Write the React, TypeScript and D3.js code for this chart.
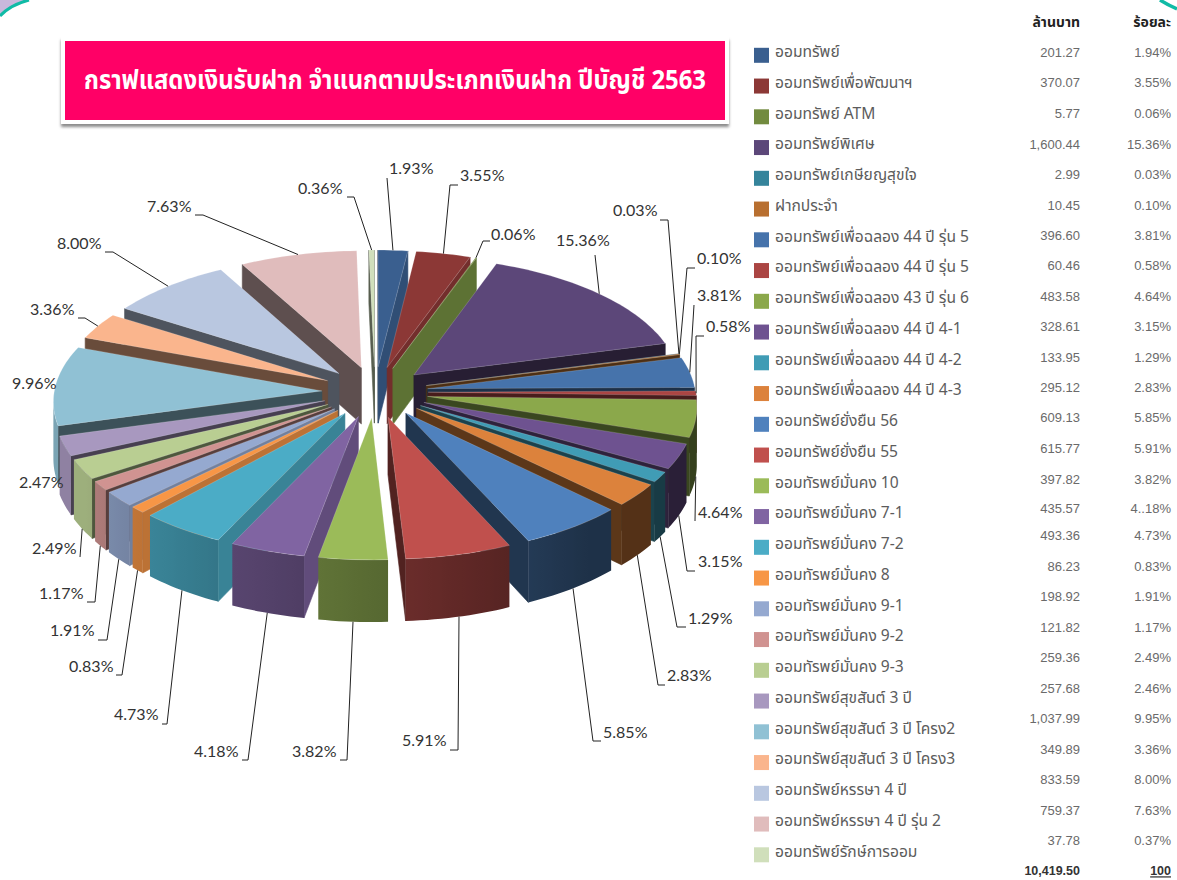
import React from "react";
import * as d3 from "d3";

const titleText = "กราฟแสดงเงินรับฝาก จำแนกตามประเภทเงินฝาก ปีบัญชี 2563";
const names = [
  "ออมทรัพย์", "ออมทรัพย์เพื่อพัฒนาฯ", "ออมทรัพย์ ATM", "ออมทรัพย์พิเศษ", "ออมทรัพย์เกษียญสุขใจ", "ฝากประจำ",
  "ออมทรัพย์เพื่อฉลอง 44 ปี รุ่น 5", "ออมทรัพย์เพื่อฉลอง 44 ปี รุ่น 5", "ออมทรัพย์เพื่อฉลอง 43 ปี รุ่น 6",
  "ออมทรัพย์เพื่อฉลอง 44 ปี 4-1", "ออมทรัพย์เพื่อฉลอง 44 ปี 4-2", "ออมทรัพย์เพื่อฉลอง 44 ปี 4-3",
  "ออมทรัพย์ยั่งยืน 56", "ออมทรัพย์ยั่งยืน 55", "ออมทัรพย์มั่นคง 10", "ออมทัรพย์มั่นคง 7-1", "ออมทัรพย์มั่นคง 7-2",
  "ออมทัรพย์มั่นคง 8", "ออมทัรพย์มั่นคง 9-1", "ออมทัรพย์มั่นคง 9-2", "ออมทัรพย์มั่นคง 9-3",
  "ออมทรัพย์สุขสันต์ 3 ปี", "ออมทรัพย์สุขสันต์ 3 ปี โครง2", "ออมทรัพย์สุขสันต์ 3 ปี โครง3",
  "ออมทรัพย์หรรษา 4 ปี", "ออมทรัพย์หรรษา 4 ปี รุ่น 2", "ออมทรัพย์รักษ์การออม",
];
const amounts = ["201.27","370.07","5.77","1,600.44","2.99","10.45","396.60","60.46","483.58","328.61","133.95","295.12","609.13","615.77","397.82","435.57","493.36","86.23","198.92","121.82","259.36","257.68","1,037.99","349.89","833.59","759.37","37.78"];
const tablePercents = ["1.94%","3.55%","0.06%","15.36%","0.03%","0.10%","3.81%","0.58%","4.64%","3.15%","1.29%","2.83%","5.85%","5.91%","3.82%","4..18%","4.73%","0.83%","1.91%","1.17%","2.49%","2.46%","9.95%","3.36%","8.00%","7.63%","0.37%"];
const chartPercents = [1.93,3.55,0.06,15.36,0.03,0.10,3.81,0.58,4.64,3.15,1.29,2.83,5.85,5.91,3.82,4.18,4.73,0.83,1.91,1.17,2.49,2.47,9.96,3.36,8.00,7.63,0.36];
const colors = ["#3a5f8f","#8c3836","#728b3f","#5c4779","#35849b","#b86f30","#4673ab","#ab4543","#8ba84b","#6e5290","#409cb5","#dc823c","#4f81bd","#c0504d","#9bbb59","#8064a2","#4bacc6","#f79646","#95a9d0","#d09391","#b9ce92","#a898bf","#90c1d4","#fab58d","#b9c7e0","#e0bcbc","#d0dfbb"];
const totalAmount = "10,419.50";
const totalPercent = "100";
const headAmount = "ล้านบาท";
const headPercent = "ร้อยละ";

// Layout, separate from data
const valueRowY = [53,83,114,145,175,206,236,266,297,327,358,388,418,449,480,509,536,567,597,628,658,689,719,750,780,811,841];
// label: text left x, text center y, elbow points (from slice to label)
const labelLayout: { x: number; y: number; pts: [number, number][] }[] = [
  { x: 389, y: 169, pts: [[387, 178]] },
  { x: 460, y: 176, pts: [[450, 185], [458, 185]] },
  { x: 491, y: 235, pts: [[483, 241], [490, 241]] },
  { x: 556, y: 241, pts: [[595, 255]] },
  { x: 613, y: 211, pts: [[668, 220], [660, 220]] },
  { x: 697, y: 259, pts: [[687, 268], [695, 268]] },
  { x: 697, y: 296, pts: [[694, 305]] },
  { x: 706, y: 327, pts: [[696, 336], [704, 336]] },
  { x: 698, y: 513, pts: [[695, 521]] },
  { x: 698, y: 562, pts: [[687, 571], [695, 571]] },
  { x: 688, y: 619, pts: [[677, 627], [686, 627]] },
  { x: 667, y: 676, pts: [[658, 685], [665, 685]] },
  { x: 603, y: 733, pts: [[593, 741], [601, 741]] },
  { x: 402, y: 741, pts: [[458, 750], [450, 750]] },
  { x: 292, y: 752, pts: [[347, 760], [340, 760]] },
  { x: 194, y: 752, pts: [[248, 760], [242, 760]] },
  { x: 114, y: 715, pts: [[167, 724], [162, 724]] },
  { x: 69, y: 667, pts: [[122, 675], [116, 675]] },
  { x: 50, y: 631, pts: [[107, 640], [98, 640]] },
  { x: 39, y: 594, pts: [[95, 602], [87, 602]] },
  { x: 32, y: 549, pts: [[80, 557]] },
  { x: 19, y: 483, pts: [] },
  { x: 12, y: 384, pts: [] },
  { x: 30, y: 310, pts: [[85, 318], [78, 318]] },
  { x: 57, y: 244, pts: [[113, 252], [105, 252]] },
  { x: 147, y: 207, pts: [[203, 215], [195, 215]] },
  { x: 298, y: 189, pts: [[354, 197], [347, 197]] },
];

const R = 262, E = 52, K = 0.49, P = 0.07, H = 57, CX = 375, CY = 392, XS = 1.022;
const project = (X: number, Y: number, z = 0): [number, number] => {
  const s = 1 / (1 + (P * Y) / R);
  return [CX + X * XS * s, CY - Y * K * s + z * s];
};
const wallShade = d3.scaleLinear().domain([140, 240]).range([0.38, 0.85]).clamp(true);
const deg = (a: number) => (a * 180) / Math.PI;
const mix = (c: string, f: number) => d3.interpolateRgb("#000", c)(f);
const poly = (pts: [number, number][]) => {
  const p = d3.path();
  pts.forEach((q, i) => (i ? p.lineTo(q[0], q[1]) : p.moveTo(q[0], q[1])));
  p.closePath();
  return p.toString();
};

const arcs = d3.pie<number>().sort(null).startAngle(0).endAngle(2 * Math.PI)(chartPercents);
const slices = arcs.map((a, i) => {
  const mid = (a.startAngle + a.endAngle) / 2;
  const ox = E * Math.sin(mid), oy = E * Math.cos(mid);
  const at = (t: number, r: number, z = 0) => project(ox + r * Math.sin(t), oy + r * Math.cos(t), z);
  const steps = Math.max(1, Math.ceil(deg(a.endAngle - a.startAngle) / 1.5));
  const thetas = d3.range(steps + 1).map((k) => a.startAngle + ((a.endAngle - a.startAngle) * k) / steps);
  const top: [number, number][] = [at(0, 0), ...thetas.map((t) => at(t, R))];
  const camY = -R / P;
  const faces: { d: string; fill: string }[] = [];
  const faceVisible = (t: number, sign: number) => {
    const nx = sign * Math.cos(t), ny = -sign * Math.sin(t);
    return nx * (0 - ox) + ny * (camY - oy) > 0;
  };
  const radial = (t: number, f: number) => {
    faces.push({ d: poly([at(0, 0), at(t, R), at(t, R, H), at(0, 0, H)]), fill: mix(colors[i], f) });
  };
  const sa = deg(a.startAngle), ea = deg(a.endAngle);
  if (faceVisible(a.startAngle, -1)) radial(a.startAngle, sa < 230 && sa > 150 ? 0.76 : 0.42);
  if (faceVisible(a.endAngle, 1)) radial(a.endAngle, ea < 30 ? 0.82 : 0.42);
  // outer wall: only the part of the arc that faces the camera
  const visible = thetas.filter((t) => {
    const mx = ox + R * Math.sin(t), my = oy + R * Math.cos(t);
    return Math.sin(t) * (0 - mx) + Math.cos(t) * (camY - my) > 0;
  });
  let wall: null | { d: string; x1: number; x2: number; stops: string[] } = null;
  if (visible.length > 1) {
    wall = {
      d: poly([...visible.map((t) => at(t, R)), ...[...visible].reverse().map((t) => at(t, R, H))]),
      x1: at(visible[0], R)[0],
      x2: at(visible[visible.length - 1], R)[0],
      stops: visible.map((t) => mix(colors[i], wallShade(deg(t)))),
    };
  }
  const md = deg(mid);
  const anchor = at(mid, R, md > 95 && md < 265 ? H : 0);
  return { i, mid, faces, wall, top: poly(top), anchor };
});
const drawOrder = [...slices].sort((a, b) => Math.cos(b.mid) - Math.cos(a.mid));
const rowY = d3.scaleLinear().domain([0, 26]).range([55.3, 55.3 + 26 * 30.75]);
const lineGen = d3.line();
const THAI = "'Noto Sans Thai','Noto Sans Thai Looped',Loma,Garuda,Tahoma,'Liberation Sans','DejaVu Sans',sans-serif";
const NUM = "'Liberation Sans',Arial,sans-serif";
const LABEL = "Lato,'Open Sans',sans-serif";

export default function App() {
  return (
    <svg width={1177} height={880} style={{ position: "absolute", left: 0, top: 0, display: "block", background: "#fff" }}>
      <defs>
        <filter id="sh" x="-5%" y="-20%" width="110%" height="140%">
          <feGaussianBlur stdDeviation="1.6" />
        </filter>
        {slices.map((s) =>
          s.wall ? (
            <linearGradient key={s.i} id={`w${s.i}`} gradientUnits="userSpaceOnUse" x1={s.wall.x1} x2={s.wall.x2} y1={0} y2={0}>
              {s.wall.stops.map((c, k) => (
                <stop key={k} offset={s.wall!.stops.length > 1 ? k / (s.wall!.stops.length - 1) : 0} stopColor={c} />
              ))}
            </linearGradient>
          ) : null
        )}
      </defs>
      <path d="M0,0 L0,16 Q10,5 29,0 Z" fill="#c9b8dc" />
      <path d="M0,16 Q10,5 29,0" fill="none" stroke="#10bba6" strokeWidth={3} />
      <path d="M1160,0 Q1168,5 1177,9" fill="none" stroke="#10bba6" strokeWidth={3.5} />

      <rect x={61} y={40} width={668} height={87} fill="#8a8a8a" filter="url(#sh)" />
      <rect x={61} y={37} width={668} height={87} fill="#fff" />
      <rect x={65} y={41} width={660} height={79} fill="#ff0066" />
      <text x={84} y={81} fill="#fff" fontFamily={THAI} fontWeight={700} fontSize={27} dominantBaseline="middle" textLength={622} lengthAdjust="spacingAndGlyphs">
        {titleText}
      </text>

      {drawOrder.map((s) => (
        <g key={s.i}>
          {s.faces.map((f, k) => (
            <path key={k} d={f.d} fill={f.fill} stroke={f.fill} strokeWidth={0.6} />
          ))}
          {s.wall ? <path d={s.wall.d} fill={`url(#w${s.i})`} /> : null}
          <path d={s.top} fill={colors[s.i]} stroke="#ffffff" strokeOpacity={0.25} strokeWidth={0.7} />
        </g>
      ))}

      {slices.map((s) => {
        const l = labelLayout[s.i];
        return l.pts.length ? (
          <path key={s.i} d={lineGen([s.anchor, ...l.pts]) ?? ""} fill="none" stroke="#222" strokeWidth={1} />
        ) : null;
      })}
      {chartPercents.map((v, i) => (
        <text key={i} x={labelLayout[i].x} y={labelLayout[i].y + 1} fontFamily={LABEL} fontSize={16} fill="#333" dominantBaseline="middle">
          {v.toFixed(2)}%
        </text>
      ))}

      <text x={1080} y={23} textAnchor="end" fontFamily={THAI} fontWeight={700} fontSize={14} fill="#222" dominantBaseline="middle">{headAmount}</text>
      <text x={1171} y={23} textAnchor="end" fontFamily={THAI} fontWeight={700} fontSize={14} fill="#222" dominantBaseline="middle">{headPercent}</text>
      {names.map((n, i) => (
        <g key={i}>
          <rect x={754} y={rowY(i) - 7.5} width={15} height={15} fill={colors[i]} />
          <text x={775} y={rowY(i) - 2.5} fontFamily={THAI} fontSize={15.6} fill="#5c5c5c" dominantBaseline="middle">{n}</text>
          <text x={1080} y={valueRowY[i] + 1} textAnchor="end" fontFamily={NUM} fontSize={13} fill="#6a6a6a" dominantBaseline="middle">{amounts[i]}</text>
          <text x={1171} y={valueRowY[i] + 1} textAnchor="end" fontFamily={NUM} fontSize={13} fill="#6a6a6a" dominantBaseline="middle">{tablePercents[i]}</text>
        </g>
      ))}
      <text x={1080} y={872} textAnchor="end" fontFamily={NUM} fontWeight={700} fontSize={12.5} fill="#333" dominantBaseline="middle">{totalAmount}</text>
      <text x={1171} y={872} textAnchor="end" fontFamily={NUM} fontWeight={700} fontSize={12.5} fill="#333" dominantBaseline="middle" textDecoration="underline">{totalPercent}</text>
    </svg>
  );
}
